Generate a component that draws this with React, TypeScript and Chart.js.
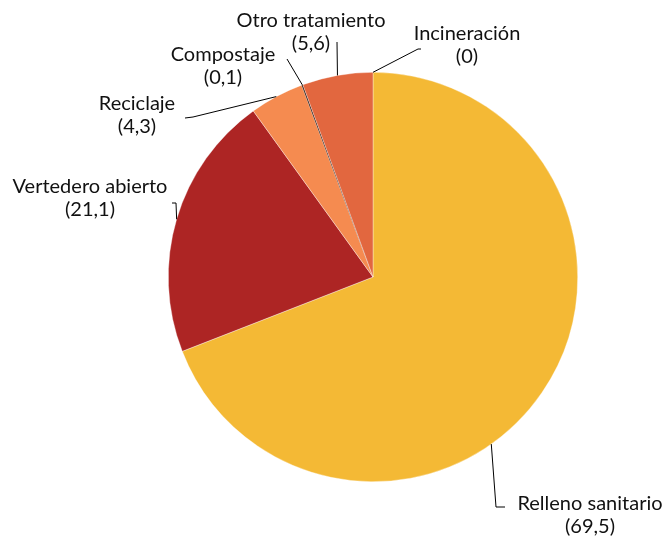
import React, { useEffect, useRef } from "react";
import { Chart, registerables } from "chart.js";

Chart.register(...registerables);

const categories = ["Relleno sanitario", "Vertedero abierto", "Reciclaje", "Compostaje", "Otro tratamiento", "Incineración"];
const values = [69.5, 21.1, 4.3, 0.1, 5.6, 0];
const valueLabels = ["(69,5)", "(21,1)", "(4,3)", "(0,1)", "(5,6)", "(0)"];
const colors = ["#F4B935", "#AD2524", "#F58B50", "#3a2a24", "#E2673F", "#C0504D"];

// layout (pixels relative to the pie centre, angles clockwise from 12 o'clock)
const labelOffsets = [[217, 227], [-283, -90], [-236, -173], [-150, -222], [-62, -256], [94, -243]];
const leaderAngles = [144.7, 286.4, 331.8, 339.8, 350, 0];
const leaderPaths = [
  [[123, 230], [132, 230]],
  [[-197, -74], [-201, -74]],
  [[-180, -160], [-188, -159]],
  [[-86, -218]],
  [[-36, -235]],
  [[45, -228], [48, -228]],
];

const FONT = "20px Lato";
const LINE_H = 23;

const labelPlugin = {
  id: "pieLabels",
  afterDraw(chart: any) {
    const ctx = chart.ctx;
    const arc = chart.getDatasetMeta(0).data[0];
    if (!arc) return;
    const cx = arc.x;
    const cy = arc.y;
    const r = arc.outerRadius;
    ctx.save();
    ctx.strokeStyle = "#000";
    ctx.lineWidth = 1;
    categories.forEach((name, i) => {
      const a = (leaderAngles[i] * Math.PI) / 180;
      const sx = cx + r * Math.sin(a);
      const sy = cy - r * Math.cos(a);
      ctx.beginPath();
      ctx.moveTo(sx, sy);
      leaderPaths[i].forEach(([dx, dy]) => ctx.lineTo(cx + dx, cy + dy));
      ctx.stroke();
      const [lx, ly] = labelOffsets[i];
      ctx.fillStyle = "#111";
      ctx.font = FONT;
      ctx.textAlign = "center";
      ctx.textBaseline = "middle";
      ctx.fillText(name, cx + lx, cy + ly);
      ctx.fillText(valueLabels[i], cx + lx, cy + ly + LINE_H);
    });
    ctx.restore();
  },
};

export default function App() {
  const ref = useRef<HTMLCanvasElement | null>(null);
  useEffect(() => {
    if (!ref.current) return;
    const chart = new Chart(ref.current, {
      type: "pie",
      data: {
        labels: categories,
        datasets: [
          {
            data: values,
            backgroundColor: colors,
            borderColor: "rgba(255,255,255,0.6)",
            borderWidth: [0.6, 0.6, 0.6, 0, 0.6, 0],
          },
        ],
      },
      options: {
        animation: false,
        responsive: true,
        maintainAspectRatio: false,
        layout: { padding: { top: 72, bottom: 55, left: 168, right: 89 } },
        plugins: { legend: { display: false }, tooltip: { enabled: false } },
      },
      plugins: [labelPlugin],
    });
    return () => chart.destroy();
  }, []);
  return (
    <div style={{ position: "fixed", left: 0, top: 0, width: 667, height: 537 }}>
      <canvas ref={ref} />
    </div>
  );
}
